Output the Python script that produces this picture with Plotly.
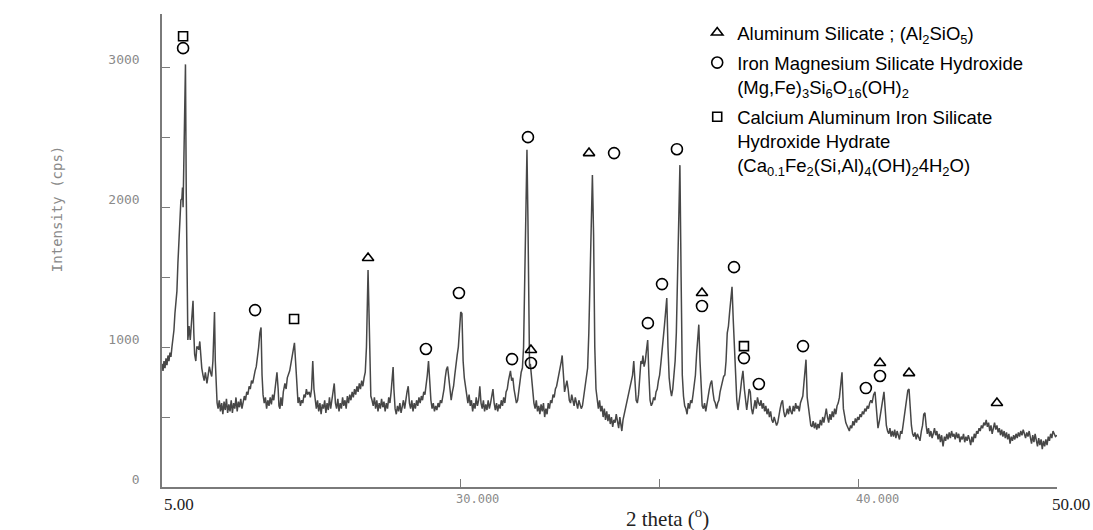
import plotly.graph_objects as go

# ---------------- data ----------------
two_theta = [
5.00,5.05,5.10,5.15,5.20,5.25,5.30,5.35,5.40,5.45,5.50,5.55,5.60,5.65,5.70,5.75,5.80,5.85,5.90,5.95,
6.00,6.03,6.06,6.10,6.12,6.18,6.22,6.26,6.30,6.33,6.36,6.42,6.48,6.52,6.56,6.60,6.64,6.70,6.75,6.80,
6.85,6.90,6.95,7.00,7.06,7.12,7.18,7.26,7.32,7.38,7.44,7.50,7.56,7.62,7.64,7.68,7.72,7.77,
7.82,7.88,7.94,8.00,8.06,8.12,8.18,8.24,8.30,8.36,8.42,8.48,8.54,8.60,8.66,8.72,8.78,8.84,8.90,8.96,
9.02,9.08,9.14,9.20,9.26,9.32,9.38,9.44,9.50,9.56,9.62,9.68,9.74,9.80,9.86,9.92,9.98,10.03,10.08,10.14,
10.20,10.26,10.32,10.38,10.44,10.50,10.56,10.62,10.68,10.74,10.78,10.84,10.88,10.93,10.98,11.04,11.10,11.18,11.24,11.30,
11.36,11.42,11.48,11.54,11.60,11.66,11.72,11.78,11.84,11.90,11.96,12.02,12.08,12.14,12.20,12.26,12.32,12.40,12.46,12.52,
12.58,12.64,12.70,12.76,12.82,12.88,12.94,13.00,13.06,13.12,13.18,13.24,13.30,13.36,13.42,13.48,13.54,13.60,13.66,13.72,
13.78,13.84,13.90,13.96,14.02,14.08,14.14,14.20,14.26,14.32,14.38,14.44,14.50,14.56,14.62,14.68,14.74,14.80,14.86,14.92,
14.98,15.04,15.10,15.16,15.22,15.28,15.33,15.36,15.40,15.44,15.50,15.56,15.62,15.68,15.74,15.80,15.86,15.92,15.98,16.04,
16.10,16.16,16.22,16.28,16.34,16.40,16.46,16.52,16.58,16.62,16.66,16.72,16.78,16.84,16.90,16.96,17.02,17.08,17.14,17.20,
17.26,17.32,17.38,17.44,17.50,17.56,17.62,17.68,17.74,17.80,17.86,17.92,17.98,18.04,18.10,18.16,18.22,18.28,18.34,18.40,
18.46,18.52,18.58,18.64,18.70,18.76,18.82,18.88,18.94,19.00,19.06,19.12,19.18,19.24,19.30,19.36,19.42,19.48,19.54,19.60,
19.66,19.72,19.78,19.84,19.90,19.96,20.02,20.08,20.14,20.20,20.26,20.32,20.38,20.44,20.50,20.56,20.62,20.68,20.74,20.80,
20.86,20.92,20.98,21.04,21.10,21.16,21.22,21.28,21.34,21.40,21.46,21.52,21.58,21.64,21.70,21.76,21.82,21.88,21.94,22.00,
22.06,22.12,22.18,22.24,22.30,22.36,22.42,22.48,22.52,22.58,22.64,22.70,22.76,22.82,22.88,22.94,23.00,23.06,23.12,23.18,
23.24,23.30,23.35,23.40,23.44,23.48,23.52,23.58,23.64,23.70,23.76,23.82,23.88,23.94,24.00,24.06,24.12,24.18,24.24,24.30,
24.36,24.42,24.48,24.54,24.60,24.66,24.72,24.78,24.84,24.90,24.96,25.02,25.08,25.12,25.18,25.24,25.30,25.36,25.42,25.48,
25.54,25.60,25.66,25.72,25.78,25.84,25.90,25.96,26.02,26.08,26.14,26.20,26.26,26.32,26.40,26.46,26.52,26.58,26.64,26.70,
26.76,26.82,26.88,26.94,27.00,27.06,27.12,27.18,27.24,27.30,27.36,27.42,27.48,27.54,27.60,27.66,27.72,27.78,27.84,27.90,
27.96,28.02,28.08,28.12,28.18,28.24,28.30,28.36,28.42,28.48,28.54,28.60,28.66,28.72,28.78,28.84,28.90,28.96,29.02,29.08,
29.14,29.18,29.24,29.30,29.36,29.42,29.48,29.54,29.60,29.66,29.72,29.78,29.84,29.90,29.96,30.02,30.08,30.14,30.20,30.26,
30.32,30.38,30.44,30.50,30.56,30.62,30.68,30.74,30.80,30.86,30.92,30.98,31.04,31.10,31.16,31.22,31.28,31.34,31.40,31.46,
31.52,31.58,31.64,31.70,31.76,31.82,31.88,31.94,31.99,32.05,32.10,32.16,32.22,32.28,32.34,32.40,32.46,32.52,32.58,32.64,
32.70,32.76,32.82,32.88,32.94,33.00,33.06,33.12,33.18,33.24,33.30,33.36,33.42,33.48,33.54,33.60,33.66,33.72,33.78,33.84,
33.90,33.96,34.02,34.08,34.14,34.21,34.28,34.34,34.40,34.46,34.52,34.58,34.64,34.70,34.76,34.82,34.88,34.94,35.00,35.06,
35.12,35.18,35.24,35.30,35.36,35.42,35.48,35.54,35.60,35.66,35.72,35.78,35.84,35.90,35.96,36.02,36.08,36.14,36.20,36.26,
36.32,36.38,36.44,36.50,36.56,36.62,36.68,36.74,36.80,36.86,36.92,36.98,37.04,37.10,37.16,37.22,37.28,37.34,37.38,37.44,
37.50,37.56,37.62,37.68,37.74,37.80,37.86,37.92,37.98,38.04,38.10,38.16,38.22,38.28,38.34,38.40,38.46,38.52,38.58,38.64,
38.70,38.76,38.82,38.88,38.94,39.00,39.06,39.12,39.19,39.26,39.32,39.38,39.44,39.50,39.56,39.62,39.68,39.74,39.80,39.86,
39.92,39.98,40.04,40.10,40.16,40.22,40.28,40.34,40.40,40.46,40.52,40.58,40.64,40.70,40.78,40.85,40.92,41.00,41.08,41.16,
41.24,41.30,41.36,41.42,41.48,41.54,41.60,41.66,41.72,41.78,41.84,41.90,41.96,42.02,42.08,42.14,42.20,42.26,42.32,42.38,
42.44,42.50,42.56,42.62,42.68,42.74,42.80,42.86,42.92,42.98,43.04,43.11,43.18,43.24,43.30,43.36,43.42,43.48,43.54,43.60,
43.66,43.72,43.78,43.84,43.90,43.96,44.02,44.08,44.14,44.20,44.27,44.34,44.40,44.46,44.52,44.58,44.64,44.70,44.76,44.82,
44.88,44.94,45.00,45.06,45.12,45.18,45.24,45.30,45.36,45.42,45.48,45.54,45.60,45.66,45.72,45.78,45.84,45.90,45.96,46.02,
46.08,46.14,46.20,46.26,46.32,46.38,46.44,46.50,46.56,46.62,46.68,46.74,46.80,46.86,46.92,46.98,47.04,47.10,47.16,47.22,
47.28,47.34,47.40,47.46,47.52,47.58,47.64,47.70,47.76,47.82,47.88,47.94,48.00,48.06,48.12,48.18,48.24,48.30,48.36,48.42,
48.48,48.54,48.60,48.66,48.72,48.78,48.84,48.90,48.96,49.02,49.08,49.14,49.20,49.26,49.32,49.38,49.44,49.50,49.56,49.62,
49.68,49.74,49.80,49.86,49.92,50.00]

intensity = [
880,830,900,850,920,870,940,900,960,930,1000,1050,1120,1240,1300,1400,1600,1800,1950,2050,
2060,2140,2000,2300,2400,3020,2100,1300,1050,1100,1150,1050,1150,1250,1330,1100,950,900,1000,1000,
980,1040,900,850,800,760,820,740,800,860,820,790,900,1140,1250,900,700,600,
560,620,540,600,520,610,550,630,530,590,540,620,530,600,560,640,540,610,570,630,
560,600,650,620,680,660,720,700,760,740,800,830,860,920,1000,1100,1140,800,660,600,
640,560,620,580,640,590,660,620,700,760,820,700,580,560,640,580,680,740,700,780,
800,830,880,920,980,1030,900,700,600,640,580,620,600,660,640,700,660,680,640,700,
900,700,600,560,620,540,600,520,590,560,620,530,600,550,640,560,620,680,740,600,
560,630,540,600,560,640,580,620,560,650,600,660,620,680,640,700,660,720,680,740,
700,760,720,780,820,1000,1400,1550,1300,900,650,620,580,640,560,620,540,600,560,630,
570,610,540,600,560,640,600,680,800,857,700,560,520,580,540,600,530,580,620,560,
640,680,720,600,560,620,540,600,560,620,580,640,600,650,620,680,660,720,800,900,
720,620,560,600,540,580,550,600,570,620,600,640,700,780,840,860,760,660,620,680,
720,800,900,940,1000,1100,1250,1240,900,780,720,640,600,660,580,620,540,600,560,640,
580,620,720,600,560,620,540,590,550,620,560,600,640,700,600,550,600,540,590,560,
620,580,640,600,680,700,760,800,830,760,780,700,640,600,620,700,780,820,850,1000,
1500,2100,2410,1900,1100,860,880,780,680,600,560,620,540,580,520,590,540,600,500,560,
520,600,560,620,600,660,640,700,720,760,800,840,900,940,760,680,720,760,700,620,
600,660,620,580,640,600,560,620,580,560,580,640,700,740,850,1100,1500,2000,2230,1800,
1000,700,600,560,620,540,580,500,560,480,540,470,520,450,500,430,480,460,520,480,
420,500,450,400,480,520,560,600,620,660,700,740,800,900,700,620,600,660,780,900,
880,940,860,900,980,1050,800,620,580,600,640,620,680,700,760,800,880,960,1050,1150,
1250,1350,1000,780,700,650,700,800,900,1100,1500,2100,2300,1500,800,650,580,560,520,600,
560,620,600,660,720,800,950,1100,1160,900,700,580,560,600,540,600,640,700,740,760,
680,620,600,560,600,620,680,720,760,790,800,900,1100,1150,1250,1350,1430,1200,1000,800,
620,550,600,680,760,830,700,600,550,620,700,680,560,520,580,620,560,640,600,580,
620,560,600,540,580,520,560,500,540,480,460,500,470,440,460,520,560,600,620,540,
500,520,560,520,580,540,520,580,540,600,560,580,540,600,620,650,750,860,910,640,
560,480,440,430,470,420,460,410,450,420,480,440,500,460,520,560,500,460,520,480,
540,500,560,520,580,600,640,720,820,560,500,460,440,420,400,440,420,470,440,490,
460,500,480,520,500,540,520,560,540,580,560,600,620,600,660,680,520,420,480,560,
640,680,560,440,400,380,420,360,400,360,410,350,400,370,340,400,380,440,500,560,
640,690,700,560,440,380,360,390,340,380,350,330,400,440,520,530,440,380,420,360,
400,350,380,420,370,400,340,380,320,370,290,360,330,380,340,390,350,400,360,380,
340,390,350,380,320,360,340,380,320,360,330,370,340,300,360,320,380,350,400,380,
420,400,440,420,460,440,480,430,460,400,440,380,420,460,410,440,390,420,370,410,
360,400,350,390,340,380,310,360,330,370,340,380,350,390,360,400,370,410,380,350,
390,360,400,350,310,370,320,380,330,290,350,300,340,270,330,290,340,300,360,330,
380,350,400,380,360,370]

# phase identification marks (2 theta, label height)
al_silicate_x = [15.36, 23.55, 26.47, 32.15, 41.10, 42.56, 46.98]
al_silicate_y = [1636, 979, 2386, 1386, 886, 814, 600]

fe_mg_x = [6.06, 9.68, 18.27, 19.93, 22.60, 23.40, 23.55, 27.73, 29.43, 30.14, 30.89,
           32.15, 33.76, 34.26, 35.01, 37.23, 40.39, 41.10]
fe_mg_y = [3136, 1264, 986, 1386, 914, 2500, 886, 2386, 1171, 1450, 2414,
           1293, 1571, 921, 736, 1007, 707, 793]

ca_al_x = [6.06, 11.64, 34.26]
ca_al_y = [3221, 1200, 1007]

phase_names = [
    "Aluminum Silicate ; (Al<sub>2</sub>SiO<sub>5</sub>)",
    "Iron Magnesium Silicate Hydroxide<br>(Mg,Fe)<sub>3</sub>Si<sub>6</sub>O<sub>16</sub>(OH)<sub>2</sub>",
    "Calcium Aluminum Iron Silicate<br>Hydroxide Hydrate<br>(Ca<sub>0.1</sub>Fe<sub>2</sub>(Si,Al)<sub>4</sub>(OH)<sub>2</sub>4H<sub>2</sub>O)",
]

y_tick_vals = [0, 500, 1000, 1500, 2000, 2500, 3000]
y_tick_text = ["0", "", "1000", "", "2000", "", "3000"]
x_tick_vals = [20, 30, 40, 50]

# ---------------- figure ----------------
SCAN = "#8a8a8a"
fig = go.Figure()

fig.add_trace(go.Scatter(
    x=two_theta, y=intensity, mode="lines",
    line=dict(color="#474747", width=1.5),
    showlegend=False, hoverinfo="skip"))

mk = dict(color="black", line=dict(color="black", width=1.6))
fig.add_trace(go.Scatter(x=al_silicate_x, y=al_silicate_y, mode="markers",
    name=phase_names[0], legendgroup="a",
    marker=dict(symbol="triangle-up-open", size=10, **mk), cliponaxis=False))
fig.add_trace(go.Scatter(x=fe_mg_x, y=fe_mg_y, mode="markers",
    name=phase_names[1], legendgroup="b",
    marker=dict(symbol="circle-open", size=11, **mk), cliponaxis=False))
fig.add_trace(go.Scatter(x=ca_al_x, y=ca_al_y, mode="markers",
    name=phase_names[2], legendgroup="c",
    marker=dict(symbol="square-open", size=9, **mk), cliponaxis=False))

fig.update_layout(
    width=1093, height=530,
    margin=dict(l=162, r=36, t=14, b=43),
    paper_bgcolor="white", plot_bgcolor="white",
    font=dict(family="Liberation Sans, Arial, sans-serif", color="black"),
    legend=dict(x=0.598, y=1.0, xanchor="left", yanchor="top",
                bgcolor="rgba(0,0,0,0)", valign="top",
                font=dict(family="Liberation Sans, Arial, sans-serif", size=18.5, color="black"),
                traceorder="grouped", tracegroupgap=3),
    xaxis=dict(range=[5, 50], showgrid=False, zeroline=False,
               showline=True, linecolor="#7a7a7a", linewidth=1.5,
               tickvals=x_tick_vals, ticks="inside", ticklen=8,
               tickcolor="#7a7a7a", showticklabels=False),
    yaxis=dict(range=[0, 3380], showgrid=False, zeroline=False,
               showline=True, linecolor="#7a7a7a", linewidth=1.5,
               tickvals=y_tick_vals, ticktext=y_tick_text,
               ticks="inside", ticklen=8, tickcolor="#7a7a7a",
               tickfont=dict(family="DejaVu Sans Mono, monospace", size=13, color=SCAN),
               ticklabelshift=-8, ticklabelstandoff=18),
)

ann = [
    dict(text="5.00", x=5, y=0, xanchor="left", yanchor="top", yshift=-6,
         font=dict(family="Liberation Serif, Times New Roman, serif", size=17, color="#222")),
    dict(text="50.00", x=50, y=0, xanchor="right", yanchor="top", yshift=-6, xshift=35,
         font=dict(family="Liberation Serif, Times New Roman, serif", size=17, color="#222")),
    dict(text="30.000", x=20.85, y=0, xanchor="center", yanchor="top", yshift=-3,
         font=dict(family="DejaVu Sans Mono, monospace", size=12, color=SCAN)),
    dict(text="40.000", x=40.95, y=0, xanchor="center", yanchor="top", yshift=-3,
         font=dict(family="DejaVu Sans Mono, monospace", size=12, color=SCAN)),
    dict(text="2 theta (<sup>o</sup>)", x=30.4, y=0, xanchor="center", yanchor="top", yshift=-15,
         font=dict(family="Liberation Serif, Times New Roman, serif", size=21, color="#222")),
    dict(text="Intensity (cps)", xref="paper", yref="paper", x=-0.117, y=0.588,
         textangle=-90, xanchor="center", yanchor="middle",
         font=dict(family="DejaVu Sans Mono, monospace", size=14, color=SCAN)),
]
for a in ann:
    a.setdefault("xref", "x")
    a.setdefault("yref", "y")
    a["showarrow"] = False
fig.update_layout(annotations=ann)

# remove the browser's default 8px body margin so the 1093x530 figure fills the window
fig.write_html("out.html", config={"displayModeBar": False},
               post_script="document.body.style.margin='0';document.body.style.overflow='hidden';")
